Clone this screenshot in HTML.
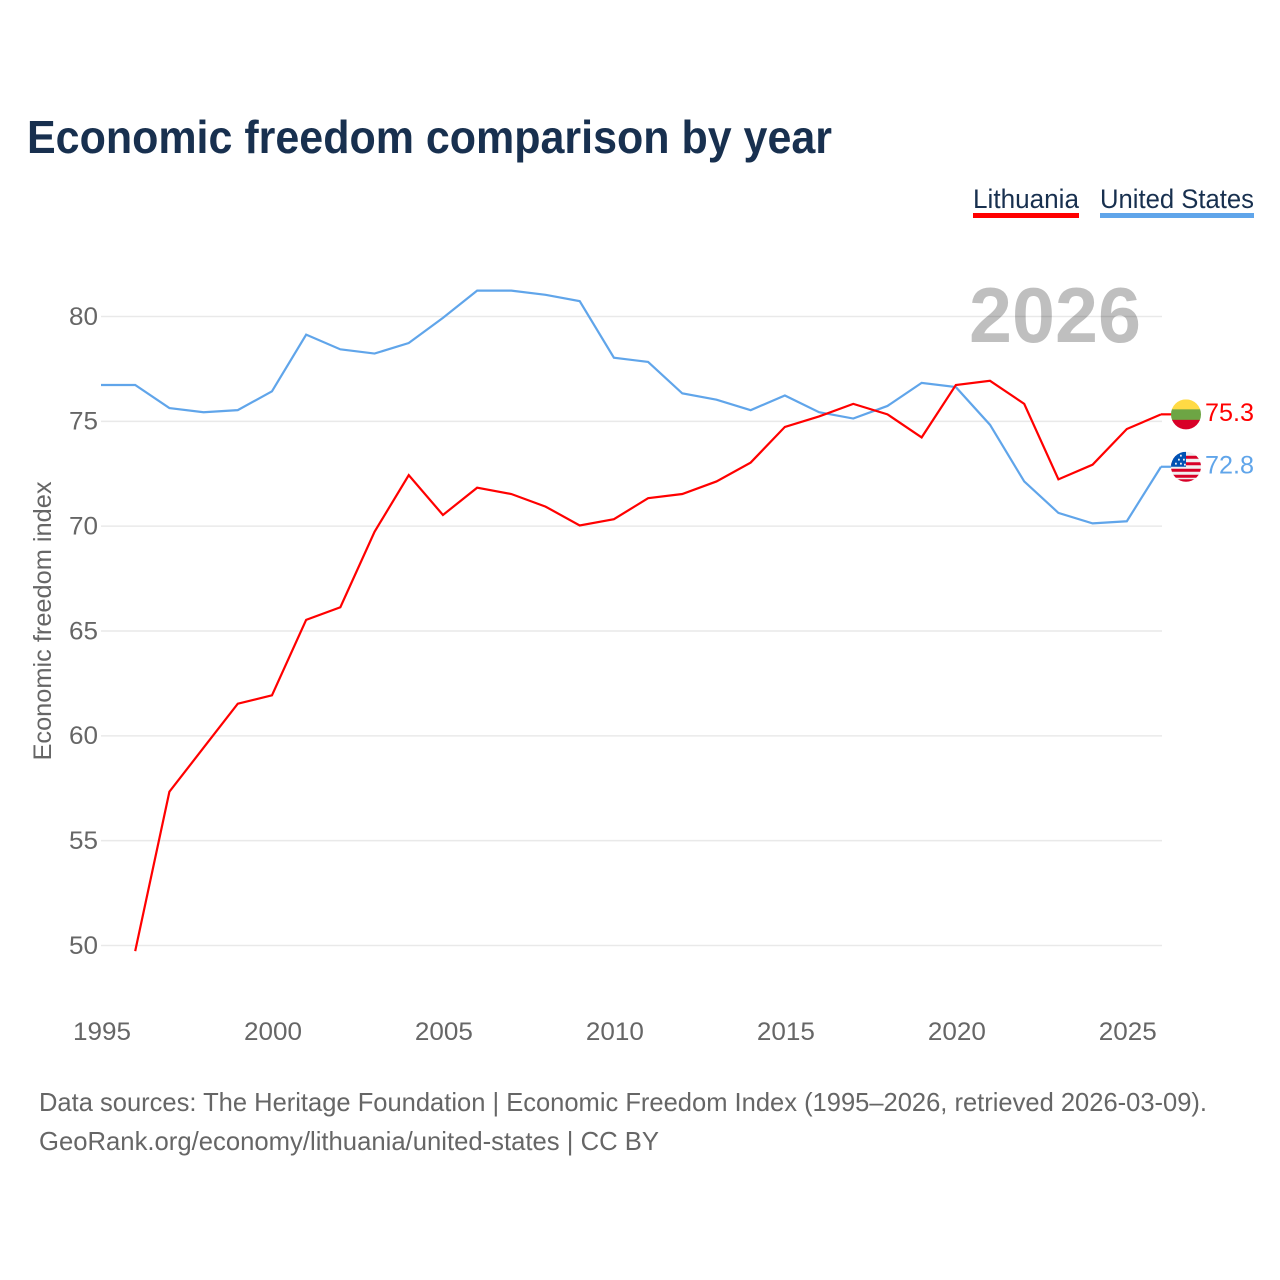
<!DOCTYPE html>
<html lang="en">
<head>
<meta charset="utf-8">
<title>Economic freedom comparison by year</title>
<style>
html,body{margin:0;padding:0;background:#fff;width:1280px;height:1280px;overflow:hidden}
svg{display:block}
text{font-family:"Liberation Sans",sans-serif}
</style>
</head>
<body>
<svg id="chart" xmlns="http://www.w3.org/2000/svg" width="1280" height="1280" viewBox="0 0 1280 1280">
  <defs>
    <clipPath id="lt-clip"><circle cx="1186" cy="0" r="15"/></clipPath>
    <clipPath id="us-clip"><circle cx="1186" cy="0" r="15"/></clipPath>
  </defs>
  <text x="27" y="153" font-size="46" font-weight="700" fill="#18304f" textLength="805" lengthAdjust="spacingAndGlyphs">Economic freedom comparison by year</text>

  <g>
    <text x="973" y="208" font-size="27" fill="#18304f" textLength="106" lengthAdjust="spacingAndGlyphs">Lithuania</text>
    <rect x="973" y="213" width="106" height="5" fill="#ff0000"/>
  </g>
  <g>
    <text x="1100" y="208" font-size="27" fill="#18304f" textLength="154" lengthAdjust="spacingAndGlyphs">United States</text>
    <rect x="1100" y="213" width="154" height="5" fill="#60a5ea"/>
  </g>

  <g id="grid"></g>
  <g id="yticks"></g>
  <g id="xticks"></g>

  <text x="969" y="342" font-size="78" font-weight="700" fill="#000" fill-opacity="0.25" textLength="172" lengthAdjust="spacingAndGlyphs">2026</text>

  <text transform="translate(51,621) rotate(-90)" text-anchor="middle" font-size="25" fill="#666666" textLength="279" lengthAdjust="spacingAndGlyphs">Economic freedom index</text>

  <g id="series"></g>
  <g id="ends"></g>

  <text x="39" y="1111" font-size="26" fill="#666666" textLength="1168" lengthAdjust="spacingAndGlyphs">Data sources: The Heritage Foundation | Economic Freedom Index (1995–2026, retrieved 2026-03-09).</text>
  <text x="39" y="1150" font-size="26" fill="#666666" textLength="620" lengthAdjust="spacingAndGlyphs">GeoRank.org/economy/lithuania/united-states | CC BY</text>
</svg>
<script>
const years = [1995,1996,1997,1998,1999,2000,2001,2002,2003,2004,2005,2006,2007,2008,2009,2010,2011,2012,2013,2014,2015,2016,2017,2018,2019,2020,2021,2022,2023,2024,2025,2026];
const lithuania = [null,49.7,57.3,59.4,61.5,61.9,65.5,66.1,69.7,72.4,70.5,71.8,71.5,70.9,70.0,70.3,71.3,71.5,72.1,73.0,74.7,75.2,75.8,75.3,74.2,76.7,76.9,75.8,72.2,72.9,74.6,75.3];
const unitedStates = [76.7,76.7,75.6,75.4,75.5,76.4,79.1,78.4,78.2,78.7,79.9,81.2,81.2,81.0,80.7,78.0,77.8,76.3,76.0,75.5,76.2,75.4,75.1,75.7,76.8,76.6,74.8,72.1,70.6,70.1,70.2,72.8];
const yTickValues = [50,55,60,65,70,75,80];
const xTickValues = [1995,2000,2005,2010,2015,2020,2025];

const NS = 'http://www.w3.org/2000/svg';
const xScale = function (year) { return 101 + (year - 1995) * (1161 - 101) / 31; };
const yScale = function (value) { return 315.8 + (80 - value) * (944.8 - 315.8) / 30; };
function make(tag, parent) {
  const el = document.createElementNS(NS, tag);
  parent.appendChild(el);
  return el;
}

const grid = document.getElementById('grid');
const yticks = document.getElementById('yticks');
yTickValues.forEach(function (v) {
  const line = make('line', grid);
  
  
  line.setAttribute('x1', 101);
  line.setAttribute('x2', 1162);
  line.setAttribute('y1', yScale(v) + 0.7);
  line.setAttribute('y2', yScale(v) + 0.7);
  line.setAttribute('stroke', '#e9e9e9');
  line.setAttribute('stroke-width', 1.5);
  const label = make('text', yticks);
  
  
  label.setAttribute('x', 98);
  label.setAttribute('y', yScale(v) + 9);
  label.setAttribute('text-anchor', 'end');
  label.setAttribute('font-size', 25);
  label.setAttribute('fill', '#666666');
  label.setAttribute('textLength', 29);
  label.setAttribute('lengthAdjust', 'spacingAndGlyphs');
  label.textContent = v;
});

const xticks = document.getElementById('xticks');
xTickValues.forEach(function (y) {
  const label = make('text', xticks);
  
  
  label.setAttribute('x', xScale(y) + 1);
  label.setAttribute('y', 1040);
  label.setAttribute('text-anchor', 'middle');
  label.setAttribute('font-size', 25);
  label.setAttribute('fill', '#666666');
  label.setAttribute('textLength', 58);
  label.setAttribute('lengthAdjust', 'spacingAndGlyphs');
  label.textContent = y;
});

function pathFor(values) {
  let d = '';
  values.forEach(function (v, i) {
    if (v === null) return;
    d += (d === '' ? 'M' : 'L') + xScale(years[i]).toFixed(2) + ' ' + yScale(v).toFixed(2);
  });
  return d;
}

const series = document.getElementById('series');
const usLine = make('path', series);


usLine.setAttribute('d', pathFor(unitedStates));
usLine.setAttribute('fill', 'none');
usLine.setAttribute('stroke', '#60a5ea');
usLine.setAttribute('stroke-width', 2.2);
const ltLine = make('path', series);


ltLine.setAttribute('d', pathFor(lithuania));
ltLine.setAttribute('fill', 'none');
ltLine.setAttribute('stroke', '#ff0000');
ltLine.setAttribute('stroke-width', 2.2);

const ends = document.getElementById('ends');
function endConnector(value, color) {
  const c = make('line', ends);
  
  
  c.setAttribute('x1', xScale(2026));
  c.setAttribute('x2', 1172);
  c.setAttribute('y1', yScale(value));
  c.setAttribute('y2', yScale(value));
  c.setAttribute('stroke', color);
  c.setAttribute('stroke-width', 2.2);
}
function endLabel(value, color) {
  const t = make('text', ends);
  
  
  t.setAttribute('x', 1205);
  t.setAttribute('y', yScale(value) + 6.5);
  t.setAttribute('font-size', 25);
  t.setAttribute('fill', color);
  t.setAttribute('textLength', 49);
  t.setAttribute('lengthAdjust', 'spacingAndGlyphs');
  t.textContent = value.toFixed(1);
}
function rect(parent, x, y, w, h, fill) {
  const r = make('rect', parent);
  
  
  r.setAttribute('x', x);
  r.setAttribute('y', y);
  r.setAttribute('width', w);
  r.setAttribute('height', h);
  r.setAttribute('fill', fill);
}

const ltValue = lithuania[lithuania.length - 1];
const usValue = unitedStates[unitedStates.length - 1];
endConnector(ltValue, '#ff0000');
endConnector(usValue, '#60a5ea');

const ltFlag = make('g', ends);


ltFlag.setAttribute('clip-path', 'url(#lt-clip)');
ltFlag.setAttribute('transform', 'translate(0,' + yScale(ltValue) + ')');
rect(ltFlag, 1171, -15, 30, 10.5, '#ffda44');
rect(ltFlag, 1171, -5, 30, 11, '#6da544');
rect(ltFlag, 1171, 5.5, 30, 10, '#d80027');

const usFlag = make('g', ends);


usFlag.setAttribute('clip-path', 'url(#us-clip)');
usFlag.setAttribute('transform', 'translate(0,' + yScale(usValue) + ')');
rect(usFlag, 1171, -15, 30, 30, '#f0f0f0');
[-11, -4.5, 2, 8].forEach(function (offset) {
  rect(usFlag, 1171, offset, 30, 3, '#d80027');
});
rect(usFlag, 1171, 12.5, 30, 3, '#d80027');
rect(usFlag, 1171, -15, 15, 15, '#0052b4');
[[1175,-4],[1180,-4],[1178,-8],[1183,-8],[1180,-12],[1184,-3]].forEach(function (p) {
  rect(usFlag, p[0], p[1], 1.8, 1.8, '#f0f0f0');
});
endLabel(ltValue, '#ff0000');
endLabel(usValue, '#60a5ea');
</script>
</body>
</html>
